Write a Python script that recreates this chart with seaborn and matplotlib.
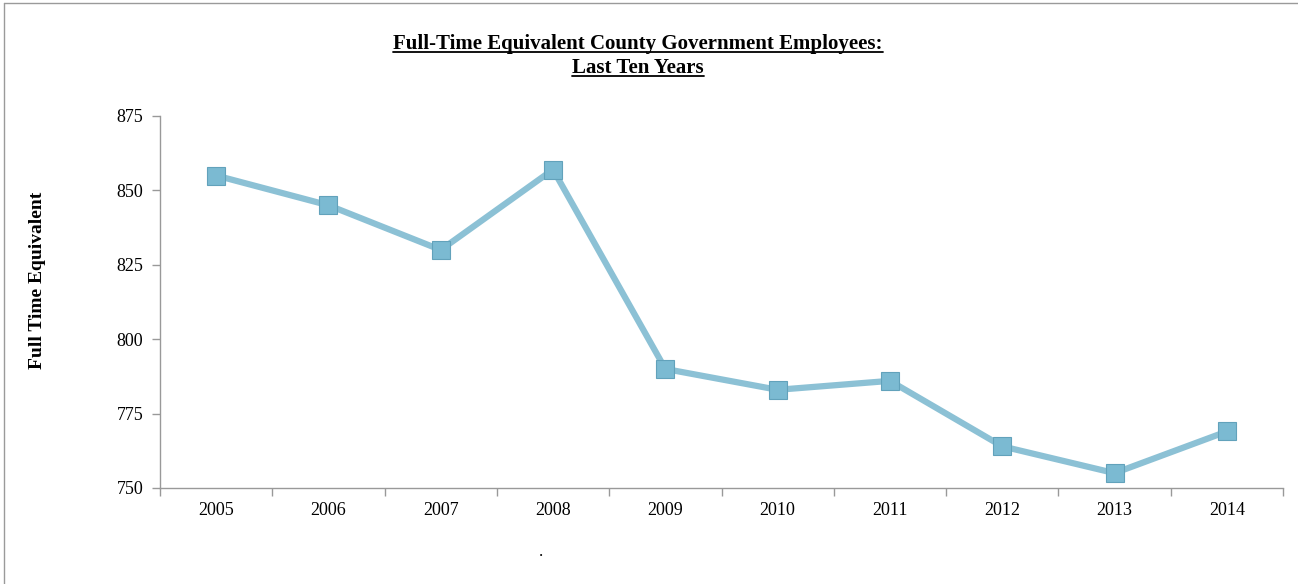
import numpy as np
import pandas as pd
import matplotlib
matplotlib.use('Agg')
import matplotlib.pyplot as plt
from matplotlib.lines import Line2D
import seaborn as sns

# Data
years = ['2005', '2006', '2007', '2008', '2009', '2010', '2011', '2012', '2013', '2014']
fte = [855, 845, 830, 857, 790, 783, 786, 764, 755, 769]

df = pd.DataFrame({'year': years, 'fte': fte})

sns.set_style('white')
plt.rcParams['font.family'] = ['Liberation Serif', 'DejaVu Serif']
plt.rcParams['text.color'] = 'black'
plt.rcParams['xtick.color'] = 'black'
plt.rcParams['ytick.color'] = 'black'

fig = plt.figure(figsize=(12.98, 5.84), dpi=100)
ax = fig.add_axes([160/1298, 1-488/584, 1123/1298, 372/584])

sns.lineplot(data=df, x='year', y='fte', ax=ax, color='#8cc1d5', linewidth=4.5,
             marker='s', markersize=13, markerfacecolor='#7bbad2',
             markeredgecolor='#62a2bb', markeredgewidth=0.8)

ax.set_xlim(-0.5, len(years) - 0.5)
ax.set_ylim(750, 875)
ax.set_yticks([750, 775, 800, 825, 850, 875])
ax.set_xticks(range(len(years)))
ax.set_xticklabels(years)
ax.set_xticks(np.arange(-0.5, len(years), 1), minor=True)
ax.tick_params(axis='x', which='major', bottom=True, length=0, pad=10, labelsize=13)
ax.tick_params(axis='x', which='minor', bottom=True, length=6, direction='out',
               color='#999999', width=1)
ax.tick_params(axis='y', left=True, length=6, direction='out', color='#999999', width=1,
               labelsize=13, pad=6)
ax.set_xlabel('')
ax.set_ylabel('')
for s in ['top', 'right']:
    ax.spines[s].set_visible(False)
for s in ['left', 'bottom']:
    ax.spines[s].set_color('#999999')
    ax.spines[s].set_linewidth(1)

fig.text(38/1298, 1-280/584, 'Full Time Equivalent', rotation=90, ha='center', va='center',
         fontsize=14, fontweight='bold')

t1 = fig.text(638/1298, 1-44/584, 'Full-Time Equivalent County Government Employees:',
              ha='center', va='center', fontsize=15, fontweight='bold')
t2 = fig.text(638/1298, 1-68/584, 'Last Ten Years',
              ha='center', va='center', fontsize=15, fontweight='bold')
fig.text(541/1298, 1-552/584, '.', ha='center', va='center', fontsize=12)

# underline title lines
fig.canvas.draw()
r = fig.canvas.get_renderer()
for t in (t1, t2):
    bb = t.get_window_extent(r).transformed(fig.transFigure.inverted())
    fig.add_artist(Line2D([bb.x0, bb.x1], [bb.y0 + 0.004, bb.y0 + 0.004],
                          transform=fig.transFigure, color='black', linewidth=1.3))

# frame lines at left and top
fig.add_artist(Line2D([4/1298, 4/1298], [0, 1-3/584], transform=fig.transFigure,
                      color='#9a9a9a', linewidth=1))
fig.add_artist(Line2D([4/1298, 1], [1-3/584, 1-3/584], transform=fig.transFigure,
                      color='#9a9a9a', linewidth=1))

fig.savefig('out.png', dpi=100)
plt.close()
